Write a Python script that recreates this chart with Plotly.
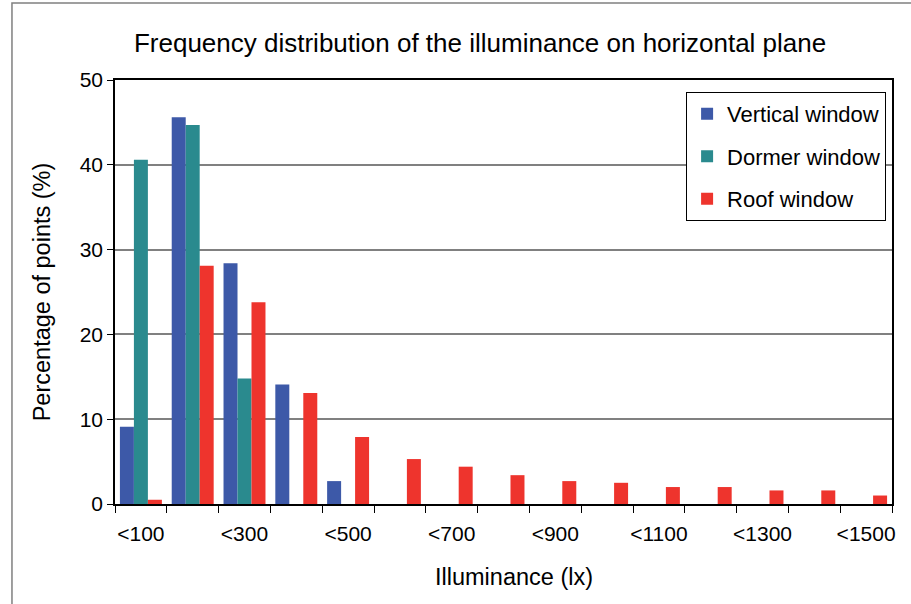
import plotly.graph_objects as go

# illuminance classes (lx)
categories = ["<100", "<200", "<300", "<400", "<500", "<600", "<700", "<800",
              "<900", "<1000", "<1100", "<1200", "<1300", "<1400", "<1500"]

vertical = [9.1, 45.6, 28.4, 14.1, 2.7, 0, 0, 0, 0, 0, 0, 0, 0, 0, 0]
dormer = [40.6, 44.7, 14.8, 0, 0, 0, 0, 0, 0, 0, 0, 0, 0, 0, 0]
roof = [0.5, 28.1, 23.8, 13.1, 7.9, 5.3, 4.4, 3.4, 2.7, 2.5, 2.0, 2.0, 1.6, 1.6, 1.0]

series_names = ["Vertical window", "Dormer window", "Roof window"]
colors = ["#3D59A8", "#2A8A8E", "#EE342D"]

FONT = "Arial, Liberation Sans, sans-serif"
x = list(range(len(categories)))

fig = go.Figure()
for name, vals, col in zip(series_names, [vertical, dormer, roof], colors):
    fig.add_trace(go.Bar(x=x, y=vals, name=name, marker_color=col,
                         marker_line_width=0, legendgroup=name))

fig.update_layout(
    width=911, height=604,
    margin=dict(l=115, r=19, t=80, b=100),
    paper_bgcolor="white", plot_bgcolor="white",
    font=dict(family=FONT, size=21, color="black"),
    barmode="group", bargap=0.19, bargroupgap=0,
    title=dict(text="Frequency distribution of the illuminance on horizontal plane",
               x=0.527, xanchor="center", y=0.929, yanchor="middle",
               font=dict(size=26)),
    legend=dict(x=0.735, xanchor="left", y=0.972, yanchor="top",
                bordercolor="black", borderwidth=1, bgcolor="white",
                font=dict(size=22), tracegroupgap=11),
    showlegend=True,
)

fig.update_xaxes(
    range=[-0.5, len(categories) - 0.5],
    tickvals=x[::2], ticktext=categories[::2], ticks="",
    ticklabelstandoff=10,
    minor=dict(tickvals=[i - 0.5 for i in range(len(categories) + 1)],
               ticks="outside", ticklen=7, tickcolor="black", tickwidth=1),
    showline=True, linecolor="black", linewidth=1.5, mirror=True,
    showgrid=False, zeroline=False,
)

fig.update_yaxes(
    range=[0, 50], dtick=10, ticks="outside", ticklen=6, tickcolor="black",
    showline=True, linecolor="black", linewidth=1.5, mirror=True,
    showgrid=True, gridcolor="#808080", gridwidth=1.5, zeroline=False,
    title=dict(text="Percentage of points (%)", standoff=22,
               font=dict(size=23.5)),
)

# x axis title sits a little right of the plot centre in the original
fig.add_annotation(text="Illuminance (lx)", xref="paper", yref="paper",
                   x=0.514, y=-0.172, xanchor="center", yanchor="middle",
                   showarrow=False, font=dict(size=23.5))

# outer chart frame
fig.add_shape(type="rect", xref="paper", yref="paper",
              x0=-0.1326, x1=1.3, y0=-0.5, y1=1.1816,
              line=dict(color="#808080", width=1.5), layer="below")

fig.write_html("out.html", config={"displayModeBar": False},
               post_script="document.body.style.margin='0';")
